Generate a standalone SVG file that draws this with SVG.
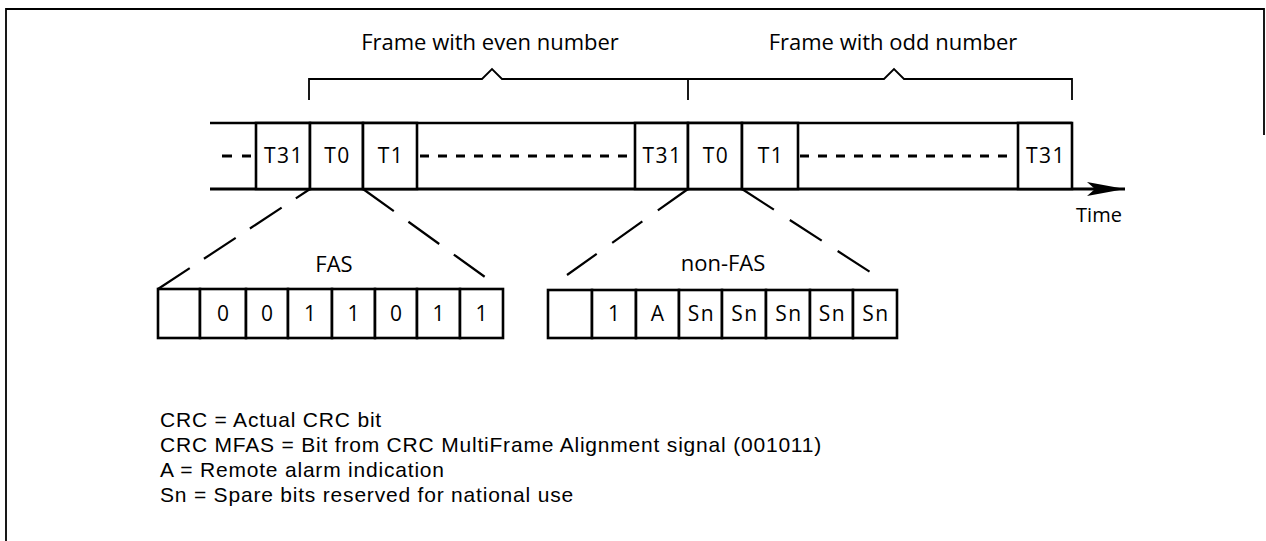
<svg xmlns="http://www.w3.org/2000/svg" width="1266" height="541" viewBox="0 0 1266 541">
<style>
  text { font-family: "Open Sans", "Liberation Sans", sans-serif; fill: #000; }
  .title { font-size: 22px; text-anchor: middle; }
  .lbl { font-size: 21px; text-anchor: middle; letter-spacing: 1.5px; }
  .sub { font-size: 22px; text-anchor: middle; }
  .time { font-size: 20px; text-anchor: middle; }
  .cell { font-size: 21px; text-anchor: middle; }
  .sn { letter-spacing: 1.5px; }
  .leg { font-family: "Liberation Sans", Arial, sans-serif; font-size: 21px; letter-spacing: 0.8px; }
  .box { fill: #fff; stroke: #000; stroke-width: 2.6; }
  .thin { fill: none; stroke: #000; stroke-width: 1.8; }
  .dash { fill: none; stroke: #000; stroke-width: 3; stroke-dasharray: 9 9; }
  .diag { fill: none; stroke: #000; stroke-width: 2.2; }
</style>
<defs>
  <marker id="arrow" markerWidth="40" markerHeight="16" refX="38" refY="7" orient="auto" markerUnits="userSpaceOnUse">
    <path d="M0,0 L38,7 L0,14 L8,7 Z" fill="#000"/>
  </marker>
</defs>
<rect width="1266" height="541" fill="#fff"/>
<g id="border" class="thin">
  <polyline points="6,541 6,9 1264,9 1264,135"/>
</g>
<g id="titles">
  <text class="title" x="490" y="50">Frame with even number</text>
  <text class="title" x="893" y="50">Frame with odd number</text>
</g>
<g id="connectors">
  <polyline class="thin" points="309,100 309,79 482,79 492,69 502,79 884,79 894,69 904,79 1072,79 1072,100"/>
  <line class="thin" x1="688" y1="79" x2="688" y2="100"/>
  <line stroke="#000" stroke-width="2.4" x1="210" y1="123" x2="1072" y2="123"/>
  <line stroke="#000" stroke-width="3.2" x1="210" y1="189" x2="1125" y2="189" marker-end="url(#arrow)"/>
  <line stroke="#000" stroke-width="3" x1="222" y1="156" x2="232" y2="156"/>
  <line stroke="#000" stroke-width="3" x1="242" y1="156" x2="251" y2="156"/>
  <line class="dash" x1="420" y1="156" x2="633" y2="156"/>
  <line class="dash" x1="800" y1="156" x2="1016" y2="156"/>
  <line class="diag" stroke-dasharray="38 17" x1="158" y1="289" x2="310" y2="189"/>
  <line class="diag" stroke-dasharray="38 18" x1="363" y1="189" x2="485" y2="277"/>
  <line class="diag" stroke-dasharray="37 19" x1="688" y1="189" x2="567" y2="275"/>
  <line class="diag" stroke-dasharray="38 19" x1="742" y1="189" x2="870" y2="272"/>
</g>
<g id="timeline">
  <g id="even-t31"><rect class="box" x="256" y="123" width="54" height="66"/><text class="lbl" x="284" y="163">T31</text></g>
  <g id="even-t0"><rect class="box" x="310" y="123" width="53" height="66"/><text class="lbl" x="337.5" y="163">T0</text></g>
  <g id="even-t1"><rect class="box" x="363" y="123" width="54" height="66"/><text class="lbl" x="391" y="163">T1</text></g>
  <g id="even-end-t31"><rect class="box" x="635" y="123" width="53" height="66"/><text class="lbl" x="662.5" y="163">T31</text></g>
  <g id="odd-t0"><rect class="box" x="688" y="123" width="54" height="66"/><text class="lbl" x="716" y="163">T0</text></g>
  <g id="odd-t1"><rect class="box" x="742" y="123" width="56" height="66"/><text class="lbl" x="771" y="163">T1</text></g>
  <g id="odd-t31"><rect class="box" x="1018" y="123" width="54" height="66"/><text class="lbl" x="1046" y="163">T31</text></g>
  <text id="time" class="time" x="1099" y="222">Time</text>
</g>
<g id="fas">
  <text class="sub" x="334" y="272">FAS</text>
  <rect class="box" x="158" y="289" width="42" height="49"/>
  <g><rect class="box" x="200" y="289" width="46" height="49"/><text class="cell" x="223" y="321">0</text></g>
  <g><rect class="box" x="246" y="289" width="42" height="49"/><text class="cell" x="267" y="321">0</text></g>
  <g><rect class="box" x="288" y="289" width="44" height="49"/><text class="cell" x="310" y="321">1</text></g>
  <g><rect class="box" x="332" y="289" width="43" height="49"/><text class="cell" x="353.5" y="321">1</text></g>
  <g><rect class="box" x="375" y="289" width="42" height="49"/><text class="cell" x="396" y="321">0</text></g>
  <g><rect class="box" x="417" y="289" width="43" height="49"/><text class="cell" x="438.5" y="321">1</text></g>
  <g><rect class="box" x="460" y="289" width="43" height="49"/><text class="cell" x="481.5" y="321">1</text></g>
</g>
<g id="nonfas">
  <text class="sub" x="723" y="271">non-FAS</text>
  <rect class="box" x="548" y="290" width="44" height="48"/>
  <g><rect class="box" x="592" y="290" width="44" height="48"/><text class="cell" x="614" y="321">1</text></g>
  <g><rect class="box" x="636" y="290" width="43" height="48"/><text class="cell" x="657.5" y="321">A</text></g>
  <g><rect class="box" x="679" y="290" width="43" height="48"/><text class="cell sn" x="701.5" y="321">Sn</text></g>
  <g><rect class="box" x="722" y="290" width="44" height="48"/><text class="cell sn" x="745" y="321">Sn</text></g>
  <g><rect class="box" x="766" y="290" width="44" height="48"/><text class="cell sn" x="789" y="321">Sn</text></g>
  <g><rect class="box" x="810" y="290" width="43" height="48"/><text class="cell sn" x="832.5" y="321">Sn</text></g>
  <g><rect class="box" x="853" y="290" width="44" height="48"/><text class="cell sn" x="876" y="321">Sn</text></g>
</g>
<g id="legend">
  <text class="leg" x="160" y="427">CRC = Actual CRC bit</text>
  <text class="leg" x="160" y="452">CRC MFAS = Bit from CRC MultiFrame Alignment signal (001011)</text>
  <text class="leg" x="160" y="477">A = Remote alarm indication</text>
  <text class="leg" x="160" y="502">Sn = Spare bits reserved for national use</text>
</g>
</svg>
